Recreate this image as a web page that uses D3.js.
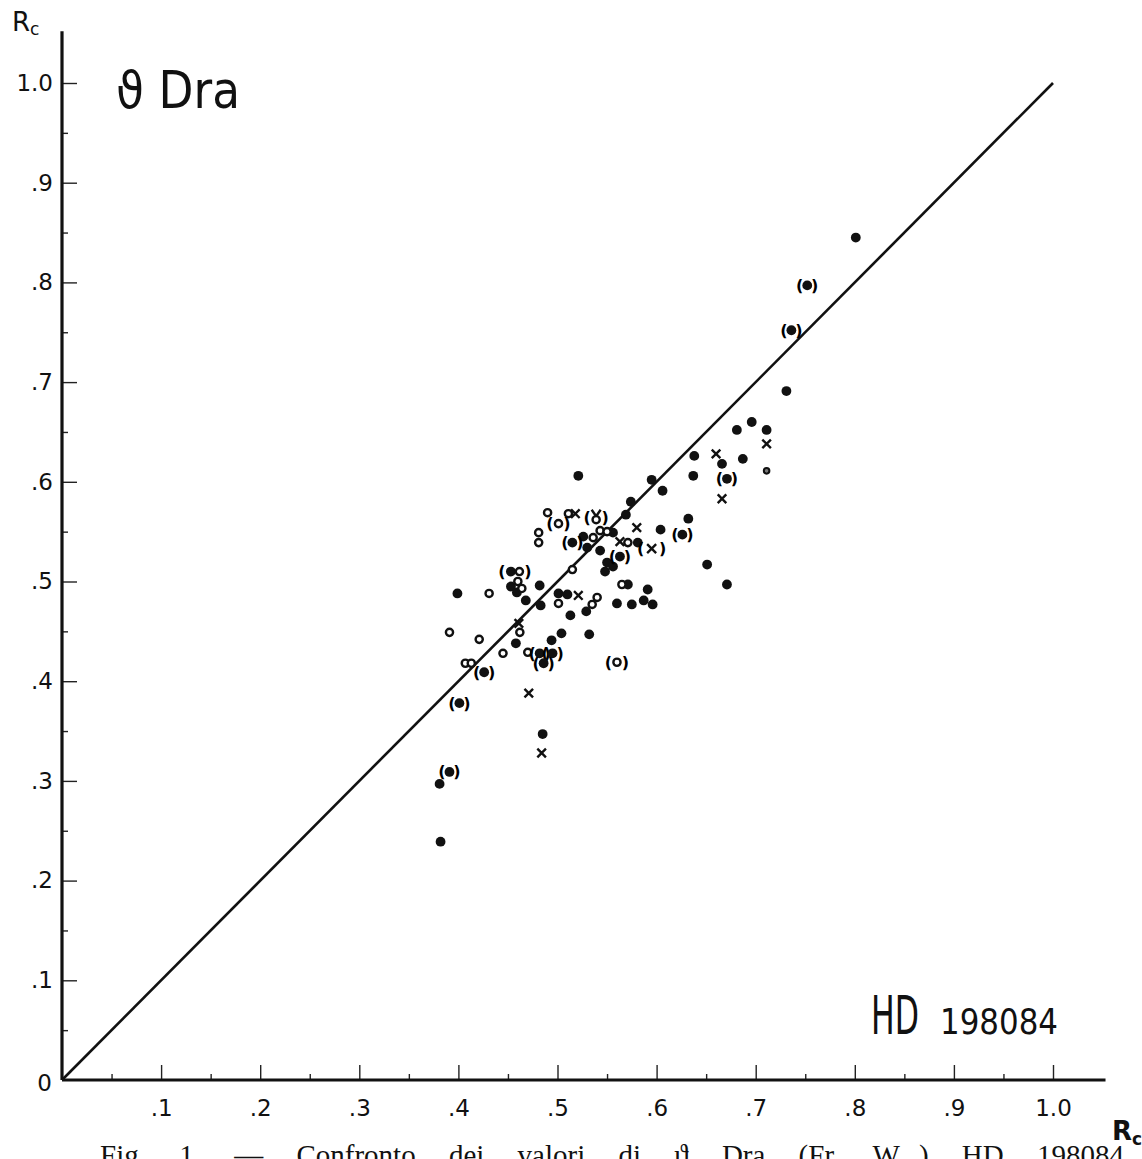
<!DOCTYPE html>
<html>
<head>
<meta charset="utf-8">
<script src="https://cdn.jsdelivr.net/npm/d3@7"></script>
<style>
  body { margin: 0; background: #fff; }
  svg { display: block; }
  .hand { font-family: "DejaVu Sans", sans-serif; font-weight: normal; fill: #111; }
</style>
</head>
<body>
<svg width="1142" height="1159"></svg>
<script>
// values (x = Rc first set, y = Rc second set)
var filledPts = [
  [0.801,0.845],[0.731,0.691],[0.681,0.652],[0.696,0.660],[0.711,0.652],[0.687,0.623],
  [0.666,0.618],[0.638,0.626],[0.637,0.606],[0.595,0.602],[0.606,0.591],[0.521,0.606],
  [0.574,0.580],[0.569,0.567],[0.632,0.563],[0.604,0.552],[0.581,0.539],[0.526,0.545],
  [0.530,0.534],[0.543,0.531],[0.556,0.549],[0.550,0.519],[0.556,0.515],[0.548,0.510],
  [0.651,0.517],[0.671,0.497],[0.591,0.492],[0.560,0.478],[0.575,0.477],[0.587,0.481],
  [0.596,0.477],[0.571,0.497],[0.529,0.470],[0.513,0.466],[0.501,0.488],[0.510,0.487],
  [0.482,0.496],[0.483,0.476],[0.453,0.495],[0.459,0.489],[0.468,0.481],[0.399,0.488],
  [0.458,0.438],[0.504,0.448],[0.494,0.441],[0.532,0.447],[0.485,0.347],[0.381,0.297],
  [0.382,0.239]
];
var smallPts = [[0.711,0.611]];
var openPts = [
  [0.490,0.569],[0.511,0.568],[0.481,0.549],[0.481,0.539],[0.536,0.544],[0.543,0.551],
  [0.550,0.550],[0.571,0.539],[0.515,0.512],[0.460,0.500],[0.464,0.493],[0.431,0.488],
  [0.501,0.478],[0.565,0.497],[0.540,0.484],[0.535,0.477],[0.462,0.449],[0.391,0.449],
  [0.421,0.442],[0.407,0.418],[0.413,0.418],[0.445,0.428],[0.470,0.429]
];
var crossPts = [
  [0.518,0.568],[0.580,0.554],[0.563,0.540],[0.521,0.486],[0.461,0.458],[0.471,0.388],
  [0.484,0.328],[0.660,0.628],[0.711,0.638],[0.666,0.583]
];
var parenFilledPts = [
  [0.752,0.797],[0.736,0.752],[0.671,0.603],[0.626,0.547],[0.563,0.525],[0.515,0.539],
  [0.482,0.428],[0.495,0.428],[0.486,0.418],[0.426,0.409],[0.401,0.378],[0.391,0.309]
];
var parenOpenPts = [[0.501,0.558],[0.560,0.419]];
var parenCrossPts = [[0.595,0.533]];
var parenPairPts = [[0.457,0.510]];   // "(●○)"
var parenDeltaPts = [[0.539,0.564]];  // "(δ)" like mark

var majorTicks = [0.1,0.2,0.3,0.4,0.5,0.6,0.7,0.8,0.9,1.0];
var minorTicks = [0.05,0.15,0.25,0.35,0.45,0.55,0.65,0.75,0.85,0.95];
var tickLabels = [".1",".2",".3",".4",".5",".6",".7",".8",".9","1.0"];

var svg = d3.select("svg");

var x = d3.scaleLinear().domain([0, 1]).range([62, 1053]),
    y = d3.scaleLinear().domain([0, 1]).range([1080, 83]);

var fmt = function(d) { return tickLabels[majorTicks.indexOf(d)]; };

// axes
var xAxisG = svg.append("g").attr("transform", "translate(0," + y(0) + ")");
xAxisG.call(d3.axisBottom(x).tickValues(majorTicks).tickSize(-15).tickPadding(20).tickFormat(fmt));
xAxisG.append("g").call(d3.axisBottom(x).tickValues(minorTicks).tickSize(-6).tickFormat(""));

var yAxisG = svg.append("g").attr("transform", "translate(" + x(0) + ",0)");
yAxisG.call(d3.axisLeft(y).tickValues(majorTicks).tickSize(-15).tickPadding(9).tickFormat(fmt));
yAxisG.append("g").call(d3.axisLeft(y).tickValues(minorTicks).tickSize(-6).tickFormat(""));

svg.selectAll(".domain").remove();
svg.selectAll(".tick line").attr("stroke", "#222").attr("stroke-width", 1.4);
svg.selectAll(".tick text")
    .attr("class", "hand")
    .style("font-size", "23px")
    .attr("fill", "#111");

// axis lines run past 1.0
svg.append("line")
    .attr("x1", x(0)).attr("y1", y(0)).attr("x2", x(1.053)).attr("y2", y(0))
    .attr("stroke", "#111").attr("stroke-width", 3.2);
svg.append("line")
    .attr("x1", x(0)).attr("y1", y(0)).attr("x2", x(0)).attr("y2", y(1.052))
    .attr("stroke", "#111").attr("stroke-width", 3.2);

// y = x line
svg.append("line")
    .attr("x1", x(0)).attr("y1", y(0)).attr("x2", x(1)).attr("y2", y(1))
    .attr("stroke", "#111").attr("stroke-width", 2.6);

var marks = svg.append("g");

marks.selectAll(".filled").data(filledPts).enter().append("circle")
    .attr("cx", function(d) { return x(d[0]); })
    .attr("cy", function(d) { return y(d[1]); })
    .attr("r", 4.9).attr("fill", "#111");

marks.selectAll(".small").data(smallPts).enter().append("circle")
    .attr("cx", function(d) { return x(d[0]); })
    .attr("cy", function(d) { return y(d[1]); })
    .attr("r", 2.8).attr("fill", "#777").attr("stroke", "#111").attr("stroke-width", 2);

marks.selectAll(".open").data(openPts).enter().append("circle")
    .attr("cx", function(d) { return x(d[0]); })
    .attr("cy", function(d) { return y(d[1]); })
    .attr("r", 3.6).attr("fill", "#fff").attr("stroke", "#111").attr("stroke-width", 2.4);

function cross(sel, s) {
  sel.append("path")
      .attr("d", "M" + (-s) + "," + (-s) + "L" + s + "," + s + "M" + (-s) + "," + s + "L" + s + "," + (-s))
      .attr("stroke", "#111").attr("stroke-width", 2.4).attr("fill", "none");
}

marks.selectAll(".cross").data(crossPts).enter().append("g")
    .attr("transform", function(d) { return "translate(" + x(d[0]) + "," + y(d[1]) + ")"; })
    .call(cross, 4.3);

function parens(sel, dx) {
  sel.append("text").attr("x", -dx).attr("y", 5.5).attr("text-anchor", "middle")
      .attr("font-family", "DejaVu Sans").attr("font-weight", "bold").attr("font-size", 16).text("(");
  sel.append("text").attr("x", dx).attr("y", 5.5).attr("text-anchor", "middle")
      .attr("font-family", "DejaVu Sans").attr("font-weight", "bold").attr("font-size", 16).text(")");
}

function placed(data) {
  return marks.selectAll(null).data(data).enter().append("g")
      .attr("transform", function(d) { return "translate(" + x(d[0]) + "," + y(d[1]) + ")"; });
}

var pf = placed(parenFilledPts);
pf.append("circle").attr("r", 4.9).attr("fill", "#111");
parens(pf, 7.5);

var po = placed(parenOpenPts);
po.append("circle").attr("r", 3.6).attr("fill", "#fff").attr("stroke", "#111").attr("stroke-width", 2.4);
parens(po, 8.5);

var pc = placed(parenCrossPts);
pc.call(cross, 4.5);
parens(pc, 11);

var pp = placed(parenPairPts);
pp.append("circle").attr("cx", -4).attr("r", 4.9).attr("fill", "#111");
pp.append("circle").attr("cx", 4.5).attr("r", 3.6).attr("fill", "#fff").attr("stroke", "#111").attr("stroke-width", 2.4);
parens(pp, 13);

var pd = placed(parenDeltaPts);
pd.append("circle").attr("cy", 2).attr("r", 3.6).attr("fill", "none").attr("stroke", "#111").attr("stroke-width", 2.4);
pd.append("path").attr("d", "M-4.5,-8L0,-1.5M4.5,-8L0,-1.5").attr("stroke", "#111").attr("stroke-width", 2.4);
parens(pd, 9);

// labels
var rcTop = svg.append("text").attr("class", "hand").attr("x", 12).attr("y", 31).style("font-size", "26px");
rcTop.append("tspan").text("R");
rcTop.append("tspan").attr("dy", 4).style("font-size", "17px").text("c");

svg.append("text").attr("class", "hand")
    .attr("x", x(0) - 10).attr("y", y(0) + 11)
    .attr("text-anchor", "end").style("font-size", "23px").text("0");

var rcBot = svg.append("text").attr("class", "hand").attr("x", 1112).attr("y", 1140)
    .style("font-size", "26px").style("font-weight", "bold");
rcBot.append("tspan").text("R");
rcBot.append("tspan").attr("dy", 5).style("font-size", "17px").text("c");

svg.append("text").attr("class", "hand")
    .attr("x", 116).attr("y", 108).style("font-size", "52px")
    .attr("textLength", 124).attr("lengthAdjust", "spacingAndGlyphs")
    .text("ϑ Dra");

svg.append("text").attr("class", "hand")
    .attr("x", 871).attr("y", 1034).style("font-size", "54px")
    .attr("textLength", 48).attr("lengthAdjust", "spacingAndGlyphs")
    .text("HD");
svg.append("text").attr("class", "hand")
    .attr("x", 940).attr("y", 1034).style("font-size", "36px")
    .attr("textLength", 118).attr("lengthAdjust", "spacingAndGlyphs")
    .text("198084");

// caption, cut by the bottom edge as in the scan
svg.append("text")
    .attr("x", 100).attr("y", 1165)
    .attr("font-family", "Liberation Serif, serif").attr("font-size", 29).attr("fill", "#111")
    .style("word-spacing", "26px")
    .text("Fig. 1. — Confronto dei valori di ϑ Dra (Fr. W...)  HD 198084");
</script>
</body>
</html>
